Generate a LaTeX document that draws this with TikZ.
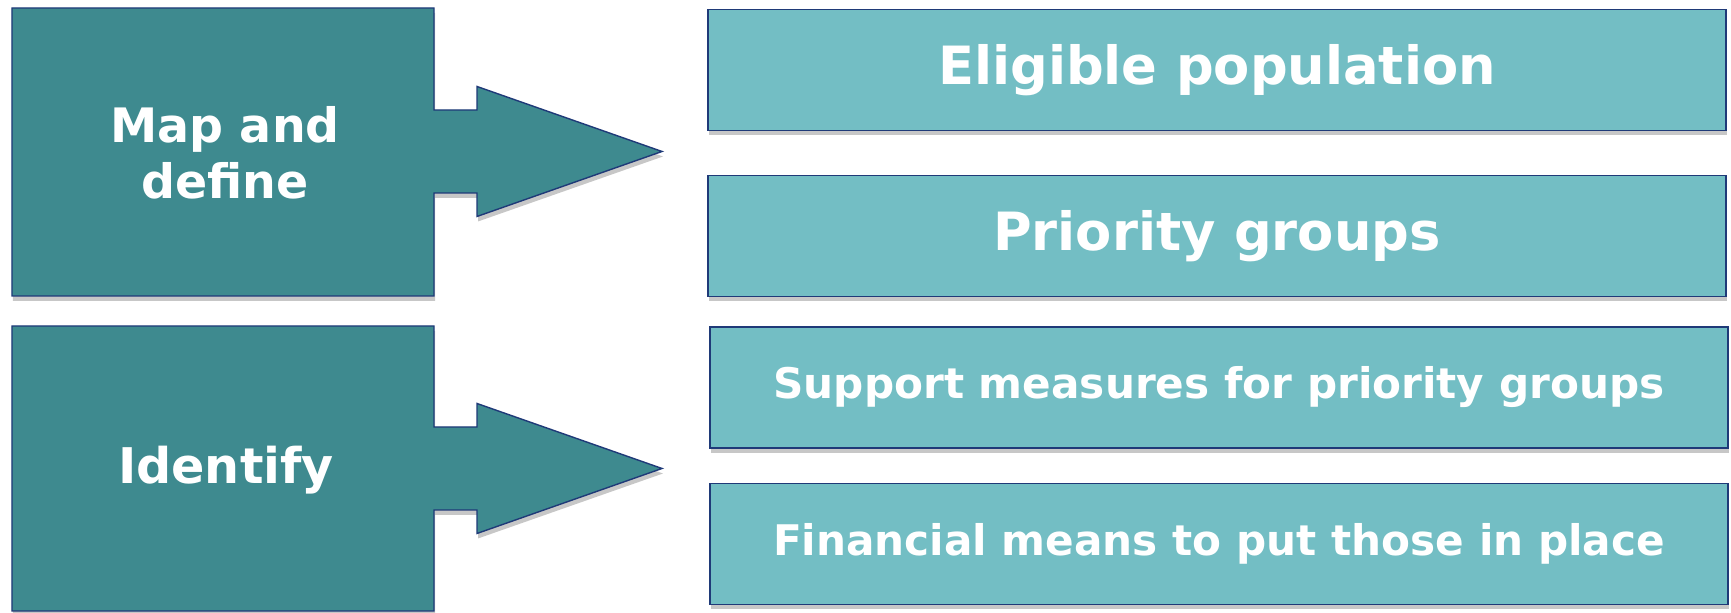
\documentclass[tikz,border=0pt]{standalone}
\usepackage{fontspec}
\setmainfont{DejaVu Sans}
\usetikzlibrary{calc}
\usetikzlibrary{shadows}

\definecolor{darkTeal}{HTML}{3E8A8F}
\definecolor{lightTeal}{HTML}{73BEC4}
\definecolor{edgeBlue}{HTML}{1F3A78}

\begin{document}
\begin{tikzpicture}[
	boxShadow/.style={drop shadow={shadow xshift=0.01cm,shadow yshift=-0.05cm,opacity=0.22,fill=black}},
	goalBox/.style={rectangle,draw=edgeBlue,fill=lightTeal,thin,boxShadow,minimum width=10.18cm,minimum height=1.21cm,inner sep=0pt,text=white},
	bigGoal/.style={goalBox,font=\bfseries\fontsize{15}{18}\selectfont},
	smallGoal/.style={goalBox,font=\bfseries\fontsize{12}{14}\selectfont},
	stepText/.style={text=white,align=center,font=\bfseries\fontsize{13.5}{16}\selectfont}
]
	\useasboundingbox (0,0) rectangle (17.31,6.13);

	% box with arrow: bottom, top, middle of the arrow
	\newcommand\drawCallout[3]{\filldraw[fill=darkTeal,draw=edgeBlue,thin,boxShadow]
		(0.12,#2) -- (4.34,#2) -- (4.34,#3+0.415) -- (4.77,#3+0.415) -- (4.77,#3+0.65)
		-- (6.62,#3) -- (4.77,#3-0.65) -- (4.77,#3-0.415) -- (4.34,#3-0.415)
		-- (4.34,#1) -- (0.12,#1) -- cycle;}

	\begin{scope}
		\drawCallout{3.17}{6.05}{4.615}
		\node[stepText] (map) at (2.25,4.6) {Map and\\define};
		\node[bigGoal] (eligible) at (12.17,5.43) {Eligible population};
		\node[bigGoal] (priority) at (12.17,3.77) {Priority groups};
	\end{scope}

	\begin{scope}
		\drawCallout{0.02}{2.87}{1.445}
		\node[stepText,font=\bfseries\fontsize{14}{16}\selectfont] (identify) at (2.26,1.43) {Identify};
		\node[smallGoal] (support) at (12.19,2.255) {Support measures for priority groups};
		\node[smallGoal] (financial) at (12.19,0.69) {Financial means to put those in place};
	\end{scope}
\end{tikzpicture}
\end{document}
